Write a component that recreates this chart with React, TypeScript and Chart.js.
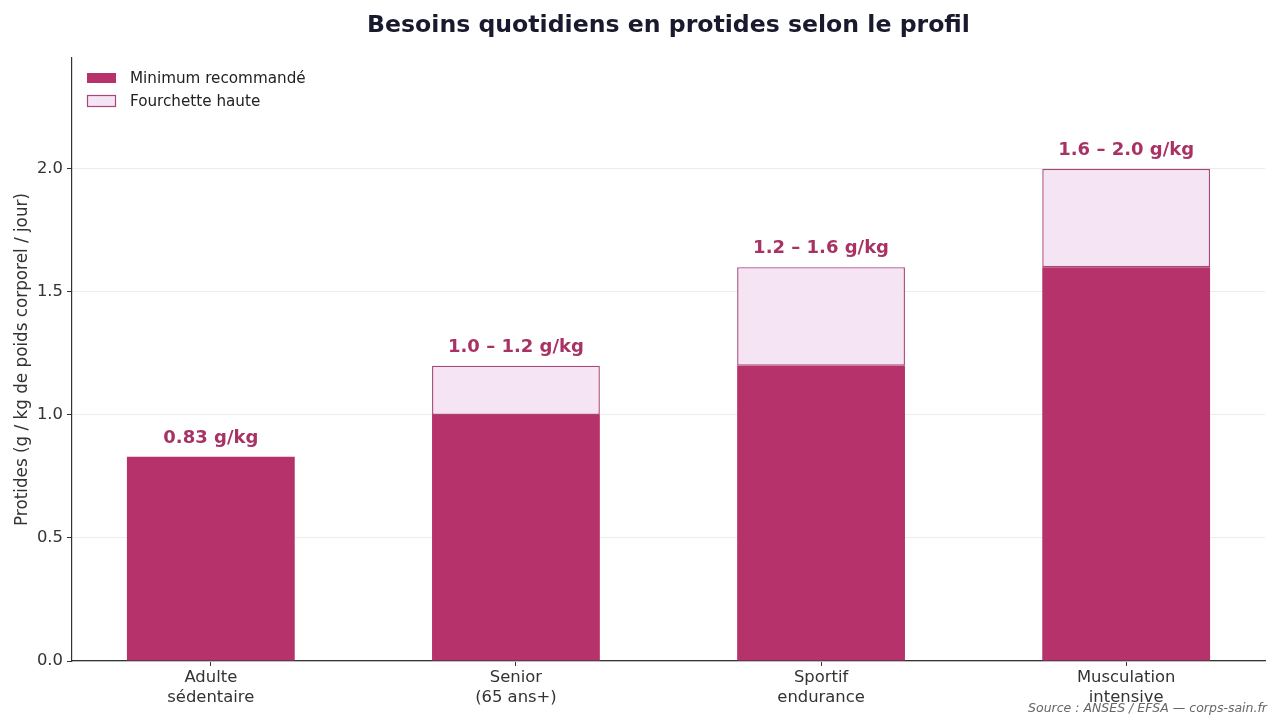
import React, { useEffect, useRef } from "react";
import { Chart, registerables } from "chart.js";

Chart.register(...registerables);

const categories: string[][] = [
  ["Adulte", "sédentaire"],
  ["Senior", "(65 ans+)"],
  ["Sportif", "endurance"],
  ["Musculation", "intensive"],
];
const minimumValues: number[] = [0.83, 1.0, 1.2, 1.6];
const highValues: (number | null)[] = [null, 1.2, 1.6, 2.0];
const barLabels: string[] = ["0.83 g/kg", "1.0 – 1.2 g/kg", "1.2 – 1.6 g/kg", "1.6 – 2.0 g/kg"];
const yTicks: number[] = [0, 0.5, 1.0, 1.5, 2.0];
const seriesNames: string[] = ["Minimum recommandé", "Fourchette haute"];

const TITLE = "Besoins quotidiens en protides selon le profil";
const Y_TITLE = "Protides (g / kg de poids corporel / jour)";
const SOURCE = "Source : ANSES / EFSA — corps-sain.fr";

const MAIN = "#b5326a";
const LIGHT_FILL = "#f5e4f3";
const LIGHT_BORDER = "#a8467a";
const LABEL = "#a83264";
const FONT = "'DejaVu Sans', sans-serif";

export default function App() {
  const ref = useRef<HTMLCanvasElement | null>(null);

  useEffect(() => {
    document.body.style.margin = "0";
    const canvas = ref.current;
    if (!canvas) return;

    const decor = {
      id: "decor",
      afterDatasetsDraw(chart: any) {
        const ctx = chart.ctx;
        const area = chart.chartArea;
        const xs = chart.scales.x;
        const ys = chart.scales.y;
        ctx.save();
        // bar labels
        ctx.font = `bold 18px ${FONT}`;
        ctx.fillStyle = LABEL;
        ctx.textAlign = "center";
        ctx.textBaseline = "alphabetic";
        barLabels.forEach((lab, i) => {
          const top = highValues[i] ?? minimumValues[i];
          ctx.fillText(lab, xs.getPixelForValue(i), ys.getPixelForValue(top) - 14);
        });
        // title
        ctx.font = `bold 23.6px ${FONT}`;
        ctx.fillStyle = "#1a1a2e";
        ctx.textBaseline = "middle";
        ctx.fillText(TITLE, (area.left + area.right) / 2, 26);
        // y title
        ctx.save();
        ctx.translate(23, (area.top + area.bottom) / 2);
        ctx.rotate(-Math.PI / 2);
        ctx.font = `16.8px ${FONT}`;
        ctx.fillStyle = "#333333";
        ctx.fillText(Y_TITLE, 0, 0);
        ctx.restore();
        // source
        ctx.font = `italic 12.5px ${FONT}`;
        ctx.fillStyle = "#666666";
        ctx.textAlign = "right";
        ctx.fillText(SOURCE, 1267, 709);
        // legend
        const lx = area.left + 15;
        const rows = [78, 101];
        ctx.textAlign = "left";
        ctx.font = `15.2px ${FONT}`;
        rows.forEach((cy, i) => {
          if (i === 0) {
            ctx.fillStyle = MAIN;
            ctx.fillRect(lx, cy - 5, 29, 10);
          } else {
            ctx.fillStyle = LIGHT_FILL;
            ctx.fillRect(lx, cy - 5.5, 29, 11);
            ctx.strokeStyle = LIGHT_BORDER;
            ctx.lineWidth = 1.2;
            ctx.strokeRect(lx + 0.5, cy - 5.5, 28, 11);
          }
          ctx.fillStyle = "#222222";
          ctx.fillText(seriesNames[i], lx + 43, cy + 1);
        });
        ctx.restore();
      },
    };

    const chart = new Chart(canvas, {
      type: "bar",
      data: {
        datasets: [
          {
            label: seriesNames[0],
            data: minimumValues.map((v, i) => ({ x: i, y: v })),
            backgroundColor: MAIN,
            borderWidth: 0,
            barPercentage: 0.55,
            categoryPercentage: 1,
            grouped: false,
            order: 2,
          },
          {
            label: seriesNames[1],
            data: highValues
              .map((v, i) => (v === null ? null : { x: i, y: [minimumValues[i], v] }))
              .filter((d) => d !== null) as any,
            backgroundColor: LIGHT_FILL,
            borderColor: LIGHT_BORDER,
            borderWidth: 1.4,
            borderSkipped: false,
            barPercentage: 0.55,
            categoryPercentage: 1,
            grouped: false,
            order: 1,
          },
        ] as any,
      },
      options: {
        animation: false,
        responsive: false,
        maintainAspectRatio: false,
        layout: { padding: { left: 0, right: 15, top: 58, bottom: 0 } },
        plugins: {
          legend: { display: false },
          title: { display: false },
          tooltip: { enabled: false },
        },
        scales: {
          x: {
            type: "linear",
            offset: false,
            min: -0.455,
            max: 3.455,
            afterBuildTicks: (scale: any) => {
              scale.ticks = categories.map((_, i) => ({ value: i }));
            },
            afterFit: (scale: any) => {
              scale.height = 59;
            },
            ticks: {
              callback: (v: any) => categories[Math.round(Number(v))] ?? "",
              font: { family: FONT, size: 16.4 },
              color: "#333333",
              padding: 2,
              maxRotation: 0,
              autoSkip: false,
            },
            grid: { offset: false, drawOnChartArea: false, drawTicks: true, tickLength: 5, tickColor: "#333333" },
            border: { display: true, color: "#333333", width: 1.2 },
          },
          y: {
            type: "linear",
            min: 0,
            max: 2.45,
            afterBuildTicks: (scale: any) => {
              scale.ticks = yTicks.map((v) => ({ value: v }));
            },
            afterFit: (scale: any) => {
              scale.width = 72;
            },
            ticks: {
              callback: (v: any) => Number(v).toFixed(1),
              font: { family: FONT, size: 16.4 },
              color: "#333333",
              padding: 4,
            },
            grid: { color: "#ececec", lineWidth: 1, tickLength: 5, tickColor: "#333333" },
            border: { display: true, color: "#333333", width: 1.2 },
          },
        },
      },
      plugins: [decor],
    } as any);

    return () => chart.destroy();
  }, []);

  return (
    <div style={{ position: "fixed", left: 0, top: 0, width: 1280, height: 720, background: "#ffffff" }}>
      <canvas ref={ref} width={1280} height={720} style={{ width: 1280, height: 720 }} />
    </div>
  );
}
